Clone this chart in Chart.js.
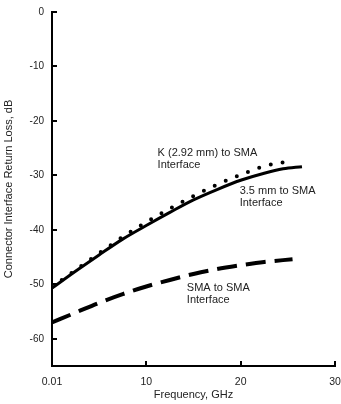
<!DOCTYPE html>
<html>
<head>
<meta charset="utf-8">
<script src="https://cdn.jsdelivr.net/npm/chart.js@4.4.1/dist/chart.umd.min.js"></script>
<style>
  html, body { margin: 0; padding: 0; background: #fff; }
  #wrap { width: 341px; height: 404px; position: relative; }
</style>
</head>
<body>
<div id="wrap"><canvas id="c" width="341" height="404"></canvas></div>
<script>
// ---- data (GHz, dB) ----
const freqK     = [0.01, 2.5, 5, 7.5, 10, 12.5, 15, 17.5, 20, 22.5, 25.6];
const lossK     = [-50.5, -47.4, -44.3, -41.3, -38.6, -36.1, -33.8, -31.7, -29.9, -28.3, -27.3];
const freq35    = [0.01, 2.5, 5, 7.5, 10, 12.5, 15, 17.5, 20, 22.5, 24.5, 26.5];
const loss35    = [-50.7, -47.6, -44.6, -41.7, -39.2, -36.8, -34.5, -32.6, -30.9, -29.6, -28.8, -28.4];
const freqSMA   = [0.01, 2.5, 5, 7.5, 10, 12.5, 15, 17.5, 20, 22.5, 25.5];
const lossSMA   = [-57.0, -55.2, -53.4, -51.8, -50.4, -49.2, -48.1, -47.2, -46.5, -45.9, -45.4];
const xTickValues = [0.01, 10, 20, 30];
const yTickValues = [0, -10, -20, -30, -40, -50, -60];
const seriesNames = ['K (2.92 mm) to SMA Interface', '3.5 mm to SMA Interface', 'SMA to SMA Interface'];

// label anchors in data units (GHz, dB), one line per entry
const labelLines = [
  { text: ['K (2.92 mm) to SMA', 'Interface'], x: 11.2, y: -25.9 },
  { text: ['3.5 mm to SMA', 'Interface'],      x: 19.9, y: -32.8 },
  { text: ['SMA to SMA', 'Interface'],         x: 14.3, y: -50.7 }
];

const toPts = (xs, ys) => xs.map((x, i) => ({ x: x, y: ys[i] }));

const FONT = 'Liberation Sans, Arial, Helvetica, sans-serif';
const TXT = '#222';

const innerTicks = {
  id: 'innerTicks',
  afterDraw(chart) {
    const ctx = chart.ctx;
    const xs = chart.scales.x, ys = chart.scales.y;
    const a = chart.chartArea;
    ctx.save();
    ctx.strokeStyle = '#000';
    ctx.lineWidth = 2;
    ctx.beginPath();
    yTickValues.forEach(v => {
      const py = Math.round(ys.getPixelForValue(v));
      ctx.moveTo(a.left - 1, py);
      ctx.lineTo(a.left + 5, py);
    });
    xTickValues.slice(1).forEach(v => {
      const px = Math.round(xs.getPixelForValue(v));
      ctx.moveTo(px, a.bottom + 1);
      ctx.lineTo(px, a.bottom - 5);
    });
    ctx.stroke();
    // text labels
    ctx.fillStyle = TXT;
    ctx.font = '11px ' + FONT;
    ctx.textAlign = 'left';
    ctx.textBaseline = 'middle';
    labelLines.forEach(l => {
      const px = xs.getPixelForValue(l.x);
      const py = ys.getPixelForValue(l.y);
      l.text.forEach((t, i) => ctx.fillText(t, px, py + i * 12));
    });
    ctx.restore();
  }
};

new Chart(document.getElementById('c'), {
  type: 'line',
  data: {
    datasets: [
      {
        label: seriesNames[0],
        data: toPts(freqK, lossK),
        borderColor: '#000',
        borderWidth: 4,
        borderDash: [0, 12],
        borderCapStyle: 'round',
        pointRadius: 0,
        cubicInterpolationMode: 'monotone',
        fill: false
      },
      {
        label: seriesNames[1],
        data: toPts(freq35, loss35),
        borderColor: '#000',
        borderWidth: 3,
        pointRadius: 0,
        cubicInterpolationMode: 'monotone',
        fill: false
      },
      {
        label: seriesNames[2],
        data: toPts(freqSMA, lossSMA),
        borderColor: '#000',
        borderWidth: 4,
        borderDash: [20, 9],
        pointRadius: 0,
        cubicInterpolationMode: 'monotone',
        fill: false
      }
    ]
  },
  options: {
    responsive: false,
    animation: false,
    devicePixelRatio: 1,
    layout: { padding: { top: 12, right: 6, left: 0, bottom: 0 } },
    plugins: { legend: { display: false }, tooltip: { enabled: false } },
    scales: {
      x: {
        type: 'linear',
        min: 0.01,
        max: 30,
        afterBuildTicks: s => { s.ticks = xTickValues.map(v => ({ value: v })); },
        afterFit: s => { s.height = 38; s.paddingLeft = 0; s.paddingRight = 0; },
        grid: { display: false, drawTicks: false },
        border: { display: true, color: '#000', width: 2 },
        ticks: {
          color: TXT,
          font: { family: FONT, size: 10.5 },
          padding: 10,
          maxRotation: 0,
          autoSkip: false,
          callback: v => String(v)
        },
        title: {
          display: true,
          text: 'Frequency, GHz',
          color: TXT,
          font: { family: FONT, size: 11 },
          padding: { top: 0, bottom: 2 }
        }
      },
      y: {
        type: 'linear',
        min: -65,
        max: 0,
        afterBuildTicks: s => { s.ticks = yTickValues.map(v => ({ value: v })); },
        afterFit: s => { s.width = 52; s.paddingTop = 0; s.paddingBottom = 0; },
        grid: { display: false, drawTicks: false },
        border: { display: true, color: '#000', width: 2 },
        ticks: {
          color: TXT,
          font: { family: FONT, size: 10 },
          padding: 8,
          autoSkip: false,
          callback: v => String(v)
        },
        title: {
          display: true,
          text: 'Connector Interface Return Loss, dB',
          color: TXT,
          font: { family: FONT, size: 11 },
          padding: { top: 2, bottom: 0 }
        }
      }
    }
  },
  plugins: [innerTicks]
});
</script>
</body>
</html>
